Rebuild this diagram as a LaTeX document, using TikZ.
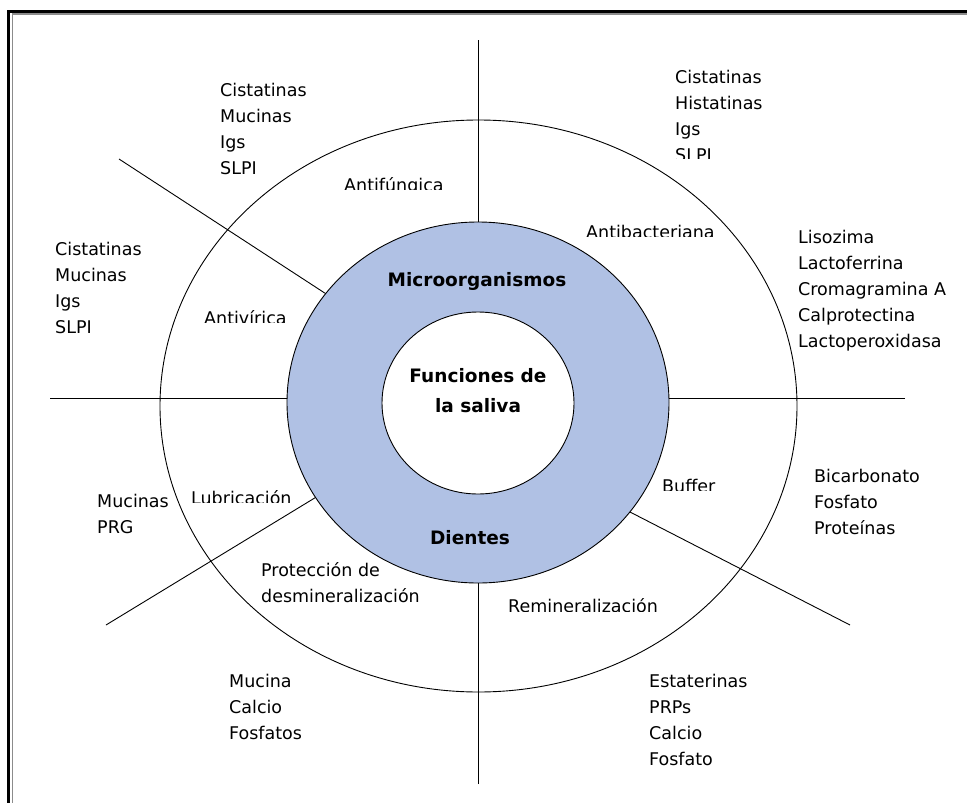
\documentclass[tikz,border=0pt]{standalone}
\usepackage{fontspec}
\setmainfont{DejaVu Sans}
\definecolor{ringblue}{RGB}{176,193,228}
\definecolor{framegray}{RGB}{140,140,140}
\begin{document}
\begin{tikzpicture}[x=1pt,y=-1pt,
  lst/.style={anchor=base west,inner sep=0pt,align=left,font=\fontsize{17.5}{26}\selectfont},
  lbl/.style={anchor=base west,inner sep=0pt,font=\fontsize{17.5}{26}\selectfont},
  ctr/.style={anchor=base,inner sep=0pt,align=center,font=\fontsize{18.5}{30}\selectfont\bfseries},
  sep/.style={line width=0.9pt}]
\useasboundingbox (0,0) rectangle (967,803);
\fill[white] (0,0) rectangle (967,803);
% frame
\draw[line width=3pt] (8.5,830) -- (8.5,11.5) -- (990,11.5);
\draw[framegray,line width=1.5pt] (12.5,830) -- (12.5,14) -- (990,14);
% coordinates
\coordinate (c) at (478,403);
\coordinate (upO) at (478,40);   \coordinate (upI) at (478,260);
\coordinate (dnO) at (478,784);  \coordinate (dnI) at (478,550);
\coordinate (lfO) at (50,398);   \coordinate (lfI) at (330,398);
\coordinate (rtO) at (905,398);  \coordinate (rtI) at (630,398);
\coordinate (ulO) at (119,159);  \coordinate (ulI) at (360,316);
\coordinate (llO) at (106,625);  \coordinate (llI) at (350,476.5);
\coordinate (lrO) at (850,625);  \coordinate (lrI) at (600,496.6);
% separators
\draw[sep] (upO) -- (upI);
\draw[sep] (dnO) -- (dnI);
\draw[sep] (lfO) -- (lfI);
\draw[sep] (rtO) -- (rtI);
\draw[sep] (ulO) -- (ulI);
\draw[sep] (llO) -- (llI);
\draw[sep] (lrO) -- (lrI);
% ellipses
\draw[line width=0.9pt] (478.5,406) ellipse [x radius=318.5, y radius=286];
\draw[line width=0.9pt, fill=ringblue] (478,402.5) ellipse [x radius=191, y radius=180.5];
\draw[line width=0.9pt, fill=white] (478,403) ellipse [x radius=96, y radius=91];
% centre texts
\node[ctr] (micro) at (477,286) {Microorganismos};
\node[ctr] (func) at (478,412) {Funciones de\\la saliva};
\node[ctr] (dien) at (470,544) {Dientes};
% lists (base anchor = last line)
\node[lst] (tl) at (220,174) {Cistatinas\\Mucinas\\Igs\\SLPI};
\node[lst] (lft) at (55,333) {Cistatinas\\Mucinas\\Igs\\SLPI};
\begin{scope}
\clip (660,50) rectangle (860,158.5);
\node[lst] (tr) at (675,161) {Cistatinas\\Histatinas\\Igs\\SLPI};
\end{scope}
\node[lst] (rt) at (798,347) {Lisozima\\Lactoferrina\\Cromagramina A\\Calprotectina\\Lactoperoxidasa};
\node[lst] (muc) at (97,533) {Mucinas\\PRG};
\node[lst] (prot) at (261,602) {Protección de\\desmineralización};
\node[lst] (mca) at (229,739) {Mucina\\Calcio\\Fosfatos};
\node[lst] (bic) at (814,534) {Bicarbonato\\Fosfato\\Proteínas};
\node[lst] (est) at (649,765) {Estaterinas\\PRPs\\Calcio\\Fosfato};
% clipped function labels
\begin{scope}\clip (330,160) rectangle (480,189);
\node[lbl] (afu) at (344,191) {Antifúngica};\end{scope}
\begin{scope}\clip (190,290) rectangle (340,322);
\node[lbl] (avi) at (204,324) {Antivírica};\end{scope}
\begin{scope}\clip (575,205) rectangle (760,236.5);
\node[lbl] (aba) at (586,238.5) {Antibacteriana};\end{scope}
\begin{scope}\clip (180,470) rectangle (330,502.7);
\node[lbl] (lub) at (191,504.5) {Lubricación};\end{scope}
\begin{scope}\clip (650,460) rectangle (760,490.5);
\node[lbl] (buf) at (662,492.5) {Buffer};\end{scope}
\begin{scope}\clip (495,580) rectangle (700,611.5);
\node[lbl] (rem) at (508,612.5) {Remineralización};\end{scope}
\end{tikzpicture}
\end{document}
